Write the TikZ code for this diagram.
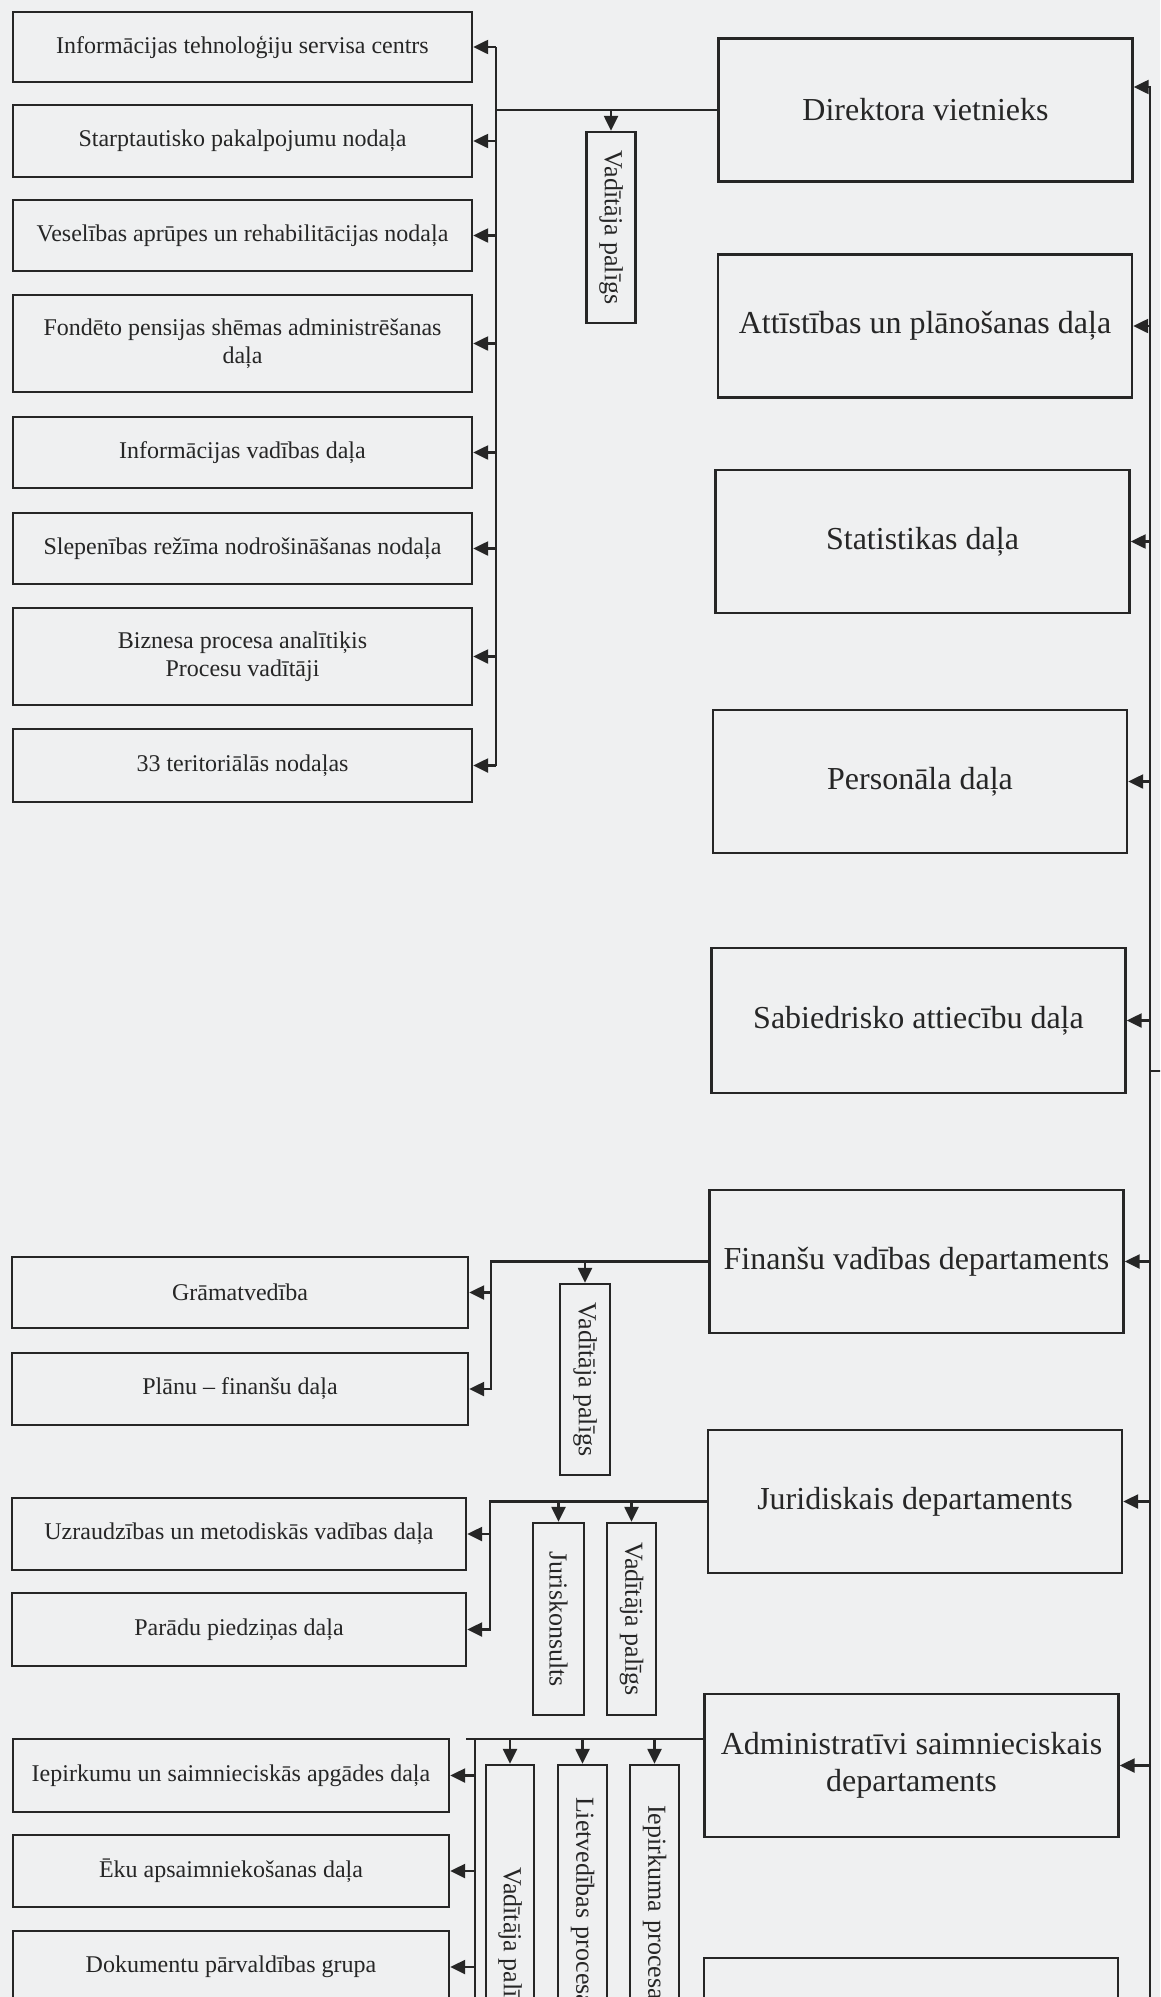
\documentclass[tikz,border=0pt]{standalone}
\usepackage{fontspec}
\setmainfont{Liberation Serif}
\usetikzlibrary{arrows.meta}
\definecolor{paper}{RGB}{239,240,241}
\definecolor{ink}{RGB}{38,38,38}

\begin{document}
\begin{tikzpicture}[x=1pt, y=-1pt, line width=2.4pt, color=ink,
    lbox/.style={draw, minimum width=459pt, minimum height=71pt, align=center, inner sep=2pt, font=\fontsize{24}{28}\selectfont},
    rbox/.style={draw, minimum width=414pt, minimum height=143pt, align=center, font=\fontsize{32}{37}\selectfont},
    vbox/.style={draw, rotate=-90, minimum width=191pt, minimum height=49pt, inner sep=0pt, font=\fontsize{26}{30}\selectfont},
    arr/.style={-{Triangle[length=15pt,width=14pt]}}]
        \useasboundingbox (0,0) rectangle (1160,1997);
        \clip (0,0) rectangle (1160,1997);
        \fill[paper] (0,0) rectangle (1160,1997);

        % deputy director and his units
        \node[lbox, minimum height=70pt] (it) at (242.5,47) {Informācijas tehnoloģiju servisa centrs};
        \node[lbox, minimum height=72pt] (sp) at (242.5,141) {Starptautisko pakalpojumu nodaļa};
        \node[lbox] (ve) at (242.5,235.5) {Veselības aprūpes un rehabilitācijas nodaļa};
        \node[lbox, minimum height=97pt] (fp) at (242.5,343.5) {Fondēto pensijas shēmas administrēšanas\\daļa};
        \node[lbox] (iv) at (242.5,452.5) {Informācijas vadības daļa};
        \node[lbox] (sr) at (242.5,548.5) {Slepenības režīma nodrošināšanas nodaļa};
        \node[lbox, minimum height=97pt] (bp) at (242.5,656.5) {Biznesa procesa analītiķis\\Procesu vadītāji};
        \node[lbox, minimum height=73pt] (tn) at (242.5,765.5) {33 teritoriālās nodaļas};
        \node[vbox] (vp1) at (611,227.5) {Vadītāja palīgs};

        % right column
        \node[rbox] (dv) at (925.5,110) {Direktora vietnieks};
        \node[rbox] (ap) at (925,326) {Attīstības un plānošanas daļa};
        \node[rbox] (st) at (922.5,541.5) {Statistikas daļa};
        \node[rbox] (pe) at (920,781.5) {Personāla daļa};
        \node[rbox, minimum height=145pt] (sa) at (918.5,1020.5) {Sabiedrisko attiecību daļa};
        \node[rbox] (fv) at (916.5,1261.5) {Finanšu vadības departaments};
        \node[rbox] (jd) at (915,1501.5) {Juridiskais departaments};
        \node[rbox] (asd) at (911.5,1765.5) {Administratīvi saimnieciskais\\departaments};
        \node[rbox] (nb) at (911,2029.5) {};

        % finance
        \node[lbox, minimum width=456pt] (gr) at (240,1292.5) {Grāmatvedība};
        \node[lbox, minimum width=456pt, minimum height=72pt] (pf) at (240,1389) {Plānu – finanšu daļa};
        \node[vbox, minimum height=50pt] (vp2) at (585,1379.5) {Vadītāja palīgs};

        % legal
        \node[lbox, minimum width=454pt, minimum height=72pt] (um) at (239,1534) {Uzraudzības un metodiskās vadības daļa};
        \node[lbox, minimum width=454pt, minimum height=73pt] (pp) at (239,1629.5) {Parādu piedziņas daļa};
        \node[vbox, minimum width=192pt, minimum height=51pt] (jk) at (558.5,1619) {Juriskonsults};
        \node[vbox, minimum width=192pt] (vp3) at (631.5,1619) {Vadītāja palīgs};

        % administration
        \node[lbox, minimum width=436pt, minimum height=73pt] (ie) at (231,1775.5) {Iepirkumu un saimnieciskās apgādes daļa};
        \node[lbox, minimum width=436pt, minimum height=72pt] (ek) at (231,1871) {Ēku apsaimniekošanas daļa};
        \node[lbox, minimum width=436pt, minimum height=72pt] (dp) at (231,1967) {Dokumentu pārvaldības grupa};
        \node[vbox, minimum width=358pt, minimum height=48pt] (vp4) at (510,1944) {Vadītāja palīgs};
        \node[vbox, minimum width=358pt, inner xsep=32pt, text width=294pt, align=left] (lp) at (582.5,1944) {Lietvedības procesa};
        \node[vbox, minimum width=358pt, inner xsep=40pt, text width=278pt, align=left] (ip) at (654.5,1944) {Iepirkuma procesa};

        % buses
        \coordinate (tbus) at (496,0);
        \coordinate (rbus) at (1150,87);
        \coordinate (rend) at (1150,1997);
        \coordinate (rtick) at (1150,1071);
        \coordinate (fbus) at (491,0);
        \coordinate (jbus) at (490,0);
        \coordinate (aend) at (466,1739);
        \coordinate (abus) at (475,0);

        \draw (dv.west) -- (tbus |- dv.west);
        \draw (tbus |- it.east) -- (tbus |- tn.east);
        \foreach \n in {it,sp,ve,fp,iv,sr,bp,tn}
            \draw[arr] (tbus |- \n.east) -- (\n.east);
        \draw[arr] (vp1.west |- dv.west) -- (vp1.west);

        \draw[arr] (rend) -- (rbus) -- (rbus -| dv.east);
        \foreach \n in {ap,st,pe,sa,fv,jd,asd}
            \draw[arr] (rbus |- \n.east) -- (\n.east);
        \draw (rtick) -- ++(12,0);

        \draw[arr] (fv.west) -- (fbus |- fv.west) -- (fbus |- pf.east) -- (pf.east);
        \draw[arr] (fbus |- gr.east) -- (gr.east);
        \draw[arr] (vp2.west |- fv.west) -- (vp2.west);

        \draw[arr] (jd.west) -- (jbus |- jd.west) -- (jbus |- pp.east) -- (pp.east);
        \draw[arr] (jbus |- um.east) -- (um.east);
        \foreach \n in {jk,vp3}
            \draw[arr] (\n.west |- jd.west) -- (\n.west);

        \draw (aend) -- (aend -| asd.west);
        \draw (abus |- aend) -- (abus |- rend);
        \foreach \n in {ie,ek,dp}
            \draw[arr] (abus |- \n.east) -- (\n.east);
        \foreach \n in {vp4,lp,ip}
            \draw[arr] (\n.west |- aend) -- (\n.west);
\end{tikzpicture}
\end{document}
